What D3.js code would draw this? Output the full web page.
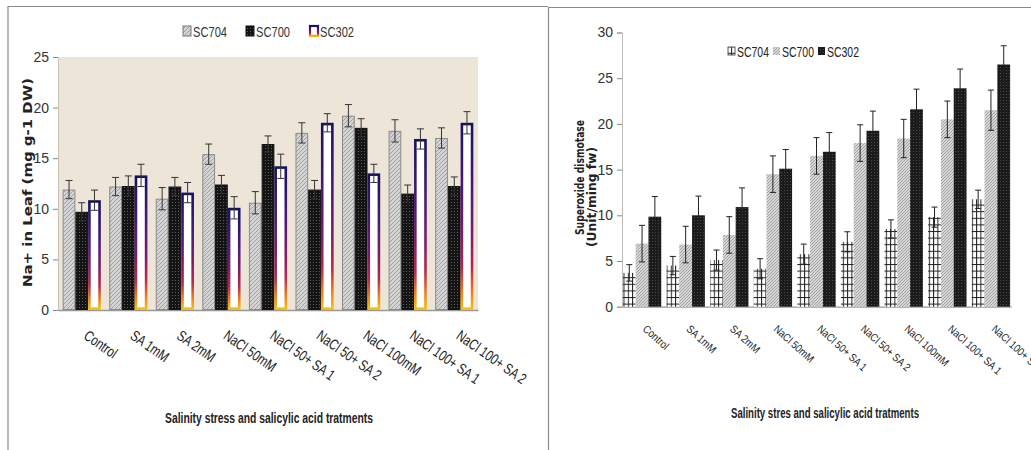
<!DOCTYPE html>
<html><head><meta charset="utf-8">
<script src="https://cdn.jsdelivr.net/npm/d3@7/dist/d3.min.js"></script>
<style>
html,body{margin:0;padding:0;background:#fff;}
svg{display:block;}
.narrow{font-family:"Liberation Sans Narrow","Arial Narrow","Liberation Sans",sans-serif;}
</style></head>
<body><svg id="c" width="1031" height="450"></svg>
<script>
// ---------- DATA ----------
const categories = ["Control","SA 1mM","SA 2mM","NaCl 50mM","NaCl 50+ SA 1","NaCl 50+ SA 2","NaCl 100mM","NaCl 100+ SA 1","NaCl 100+ SA 2"];
const seriesNames = ["SC704","SC700","SC302"];

// Left chart: Na+ in leaf
const naSC704 = [11.9, 12.2, 11.0, 15.4, 10.6, 17.5, 19.2, 17.7, 17.0];
const naSC700 = [9.7, 12.25, 12.2, 12.4, 16.4, 11.9, 18.0, 11.5, 12.25];
const naSC302 = [10.85, 13.3, 11.6, 10.1, 14.2, 18.5, 13.5, 16.9, 18.5];
const naErr704 = [0.9, 0.9, 1.1, 1.0, 1.1, 1.0, 1.1, 1.1, 1.0];
const naErr700 = [0.9, 1.0, 0.9, 0.9, 0.8, 0.9, 0.9, 0.85, 0.9];
const naErr302 = [1.0, 1.1, 1.0, 1.1, 1.2, 0.9, 0.9, 1.0, 1.1];
const naTicks = [0, 5, 10, 15, 20, 25];

// Right chart: superoxide dismutase
const sodSC704 = [3.7, 4.5, 5.1, 4.15, 5.75, 7.1, 8.5, 9.8, 11.75];
const sodSC700 = [6.9, 6.8, 7.85, 14.5, 16.5, 17.9, 18.4, 20.5, 21.5];
const sodSC302 = [9.85, 10.0, 10.9, 15.1, 16.95, 19.25, 21.6, 23.9, 26.5];
const sodErr704 = [0.9, 1.0, 1.1, 1.1, 1.1, 1.1, 1.0, 1.1, 1.0];
const sodErr700 = [2.0, 2.0, 2.0, 2.0, 2.0, 2.0, 2.1, 2.0, 2.2];
const sodErr302 = [2.2, 2.1, 2.1, 2.1, 2.1, 2.15, 2.2, 2.1, 2.05];
const sodTicks = [0, 5, 10, 15, 20, 25, 30];

// ---------- DRAW ----------
const svg = d3.select("#c");
const defs = svg.append("defs");

function pat(id, w, h, bg, draw){
  const p = defs.append("pattern").attr("id", id).attr("patternUnits","userSpaceOnUse").attr("width", w).attr("height", h);
  p.append("rect").attr("width", w).attr("height", h).attr("fill", bg);
  draw(p);
}
pat("pL704", 4, 4, "#d4d4d4", p => {
  p.append("path").attr("d","M0,4 L4,0 M-1,1 L1,-1 M3,5 L5,3").attr("stroke","#a0a0a0").attr("stroke-width",1);
});
pat("pL700", 3, 3, "#141414", p => {
  p.append("rect").attr("x",1).attr("y",1).attr("width",1).attr("height",1).attr("fill","#5e5e5e");
});
pat("pR704", 4.3, 6.6, "#ffffff", p => {
  p.append("rect").attr("x",0).attr("y",0).attr("width",1).attr("height",6.6).attr("fill","#222");
  p.append("rect").attr("x",0).attr("y",0).attr("width",4.3).attr("height",1).attr("fill","#222");
});
pat("pR700", 3, 3, "#d6d6d6", p => {
  p.append("path").attr("d","M0,3 L3,0 M-1,1 L1,-1 M2,4 L4,2").attr("stroke","#9c9c9c").attr("stroke-width",0.9);
});
pat("pR302", 3, 3, "#1b1b1b", p => {
  p.append("rect").attr("x",1).attr("y",1).attr("width",1).attr("height",1).attr("fill","#4a4a4a");
});
const grad = defs.append("linearGradient").attr("id","gL302").attr("x1",0).attr("y1",0).attr("x2",0).attr("y2",1);
[[0,"#17135e"],[0.35,"#4a1a78"],[0.6,"#7c1c6c"],[0.78,"#b8284f"],[0.9,"#ea7a22"],[1,"#f4bf10"]]
  .forEach(([o,c]) => grad.append("stop").attr("offset",o).attr("stop-color",c));

// panel borders
svg.append("path").attr("d","M8,450 L8,6.5 L548,6.5").attr("fill","none").attr("stroke","#8a8a8a").attr("stroke-width",1.2);
svg.append("path").attr("d","M548.5,450 L548.5,7.5 L1031,7.5").attr("fill","none").attr("stroke","#8a8a8a").attr("stroke-width",1.2);

function drawChart(o){
  const g = svg.append("g");
  const y = d3.scaleLinear().domain(o.yDomain).range([o.y0, o.y1]);
  const x0 = d3.scaleBand().domain(categories).range([o.xL, o.xR]).paddingInner(o.pIn).paddingOuter(o.pOut);
  const x1 = d3.scaleBand().domain(seriesNames).range([0, x0.bandwidth()]);
  if (o.bg) g.append("rect").attr("x", o.xL).attr("y", y(o.yDomain[1])).attr("width", o.xR - o.xL).attr("height", o.y0 - y(o.yDomain[1])).attr("fill", o.bg);

  const ya = g.append("g").attr("transform", `translate(${o.xL},0)`)
    .call(d3.axisLeft(y).tickValues(o.ticks).tickSize(5).tickPadding(4).tickFormat(d3.format("d")));
  ya.select(".domain").attr("stroke", o.yDomainColor);
  ya.selectAll(".tick line").attr("stroke","#888");
  ya.selectAll("text").attr("class","narrow").attr("font-size", o.tickFont).attr("fill","#333");
  const xa = g.append("g").attr("transform", `translate(0,${o.y0})`).call(d3.axisBottom(x0).tickSize(0).tickFormat(""));
  xa.select(".domain").attr("stroke","#999").attr("stroke-width",1.3);

  const vals = o.values, errs = o.errors;
  seriesNames.forEach((s, si) => {
    const grp = g.append("g");
    categories.forEach((c, ci) => {
      const v = vals[si][ci], e = errs[si][ci];
      const bx = x0(c) + x1(s), bw = x1.bandwidth();
      const st = o.styles[si];
      const inset = st.inset || 0;
      grp.append("rect").attr("x", bx + inset).attr("y", y(v) + inset)
        .attr("width", bw - 2*inset).attr("height", y(0) - y(v) - 2*inset)
        .attr("fill", st.fill).attr("stroke", st.stroke || "none").attr("stroke-width", st.sw || 0);
      const cx = bx + bw/2, cw = o.cap/2;
      grp.append("path").attr("d", `M${cx},${y(v+e)} L${cx},${y(v-e)} M${cx-cw},${y(v+e)} L${cx+cw},${y(v+e)} M${cx-cw},${y(v-e)} L${cx+cw},${y(v-e)}`)
        .attr("stroke", o.errColor).attr("stroke-width", 1).attr("fill","none");
    });
  });

  categories.forEach(c => {
    const cx = x0(c) + x0.bandwidth()/2 + o.lblDx;
    g.append("text").attr("class","narrow").attr("transform", `translate(${cx},${o.lblY}) rotate(${o.lblRot}) scale(${o.lblScale},1)`)
      .attr("font-size", o.lblFont).attr("fill","#222").text(c);
  });
  return {x0, y};
}

drawChart({
  yDomain:[0,25], y0:310, y1:57, xL:58, xR:478, pIn:0.18, pOut:0.1,
  bg:"#ede5d8", ticks:naTicks, tickFont:"14px", yDomainColor:"#c8c0b4",
  values:[naSC704, naSC700, naSC302], errors:[naErr704, naErr700, naErr302],
  styles:[{fill:"url(#pL704)", stroke:"#8a8a8a", sw:1, inset:0.5},
          {fill:"url(#pL700)", stroke:"#111", sw:1, inset:0.5},
          {fill:"#ffffff", stroke:"url(#gL302)", sw:2.6, inset:1.3}],
  cap:7, errColor:"#333", lblY:338, lblRot:35, lblDx:1, lblFont:"15px", lblScale:0.76
});
drawChart({
  yDomain:[0,30], y0:306.7, y1:32.5, xL:622, xR:1011, pIn:0.12, pOut:0.02,
  bg:null, ticks:sodTicks, tickFont:"14px", yDomainColor:"#bbb",
  values:[sodSC704, sodSC700, sodSC302], errors:[sodErr704, sodErr700, sodErr302],
  styles:[{fill:"url(#pR704)"},{fill:"url(#pR700)"},{fill:"url(#pR302)"}],
  cap:6, errColor:"#222", lblY:330, lblRot:42, lblDx:0, lblFont:"11px", lblScale:0.86
});

const lleg = [{x:183, t:"SC704", fill:"url(#pL704)", stroke:"#777", sw:1},
              {x:246, t:"SC700", fill:"url(#pL700)", stroke:"#111", sw:1},
              {x:310, t:"SC302", fill:"#fff", stroke:"url(#gL302)", sw:2.2}];
lleg.forEach(d => {
  svg.append("rect").attr("x", d.x).attr("y", 26).attr("width", 8).attr("height", 10)
    .attr("fill", d.fill).attr("stroke", d.stroke).attr("stroke-width", d.sw);
  svg.append("text").attr("class","narrow").attr("x", d.x + 10).attr("y", 37).attr("font-size","15px").attr("fill","#333")
    .attr("textLength", 34).attr("lengthAdjust","spacingAndGlyphs").text(d.t);
});
const rleg = [{x:728, t:"SC704", fill:"url(#pR704)"},{x:773, t:"SC700", fill:"url(#pR700)"},{x:818, t:"SC302", fill:"url(#pR302)"}];
rleg.forEach(d => {
  svg.append("rect").attr("x", d.x).attr("y", 47).attr("width", 7).attr("height", 8).attr("fill", d.fill)
    .attr("stroke", d.t === "SC704" ? "#333" : "none").attr("stroke-width", 0.8);
  svg.append("text").attr("class","narrow").attr("x", d.x + 9).attr("y", 57).attr("font-size","14px").attr("fill","#222")
    .attr("textLength", 32).attr("lengthAdjust","spacingAndGlyphs").text(d.t);
});

svg.append("text").attr("transform","translate(32,182.5) rotate(-90)").attr("text-anchor","middle")
  .attr("font-family","DejaVu Sans, sans-serif").attr("font-weight","bold").attr("font-size","13px").attr("fill","#222")
  .attr("textLength",209).attr("lengthAdjust","spacingAndGlyphs").text("Na+ in Leaf (mg g-1 DW)");
svg.append("text").attr("class","narrow").attr("x",269).attr("y",423).attr("text-anchor","middle")
  .attr("font-weight","bold").attr("font-size","15px").attr("fill","#222")
  .attr("textLength",208).attr("lengthAdjust","spacingAndGlyphs").text("Salinity stress and salicylic acid tratments");

svg.append("text").attr("transform","translate(584,177.5) rotate(-90)").attr("text-anchor","middle")
  .attr("font-family","DejaVu Sans, sans-serif").attr("font-weight","bold").attr("font-size","12px").attr("fill","#222")
  .attr("textLength",115).attr("lengthAdjust","spacingAndGlyphs").text("Superoxide dismotase");
svg.append("text").attr("transform","translate(596,197) rotate(-90)").attr("text-anchor","middle")
  .attr("font-family","DejaVu Sans, sans-serif").attr("font-weight","bold").attr("font-size","12px").attr("fill","#222")
  .attr("textLength",100).attr("lengthAdjust","spacingAndGlyphs").text("(Unit/ming fw)");
svg.append("text").attr("class","narrow").attr("x",825).attr("y",418).attr("text-anchor","middle")
  .attr("font-weight","bold").attr("font-size","14px").attr("fill","#222")
  .attr("textLength",188).attr("lengthAdjust","spacingAndGlyphs").text("Salinity stres and salicylic acid tratments");
</script></body></html>
